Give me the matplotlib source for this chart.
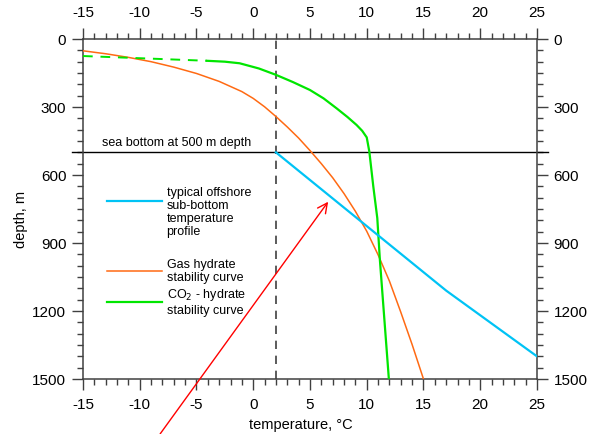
import matplotlib
matplotlib.use("Agg")
import matplotlib.pyplot as plt
from matplotlib.ticker import MultipleLocator

plt.rcParams['font.family'] = ['Liberation Sans', 'DejaVu Sans']
plt.rcParams['axes.unicode_minus'] = False

# typical offshore sub-bottom temperature profile
temp_T = [2, 17, 25]
temp_D = [500, 1110, 1400]

# gas hydrate stability curve
gas_T = [-15, -13, -11, -9, -7, -5, -3, -1, 0, 1, 2, 3, 4, 5, 6, 7, 8, 9, 10, 11, 12, 13, 14, 15]
gas_D = [52, 65, 81, 100, 124, 152, 187, 232, 262, 299, 342, 388, 437, 492, 550,
         612, 682, 760, 848, 952, 1068, 1205, 1348, 1500]

# CO2 hydrate stability curve (dashed part = extrapolated)
co2_dash_T = [-15, -4.1]
co2_dash_D = [75, 96]
co2_T = [-4.1, -2.5, -1.2, 0.5, 2.0, 3.5, 5.0, 6.2, 7.35, 8.3, 9.1, 9.6, 10.0,
         10.23, 10.58, 10.93, 11.16, 11.95]
co2_D = [96, 100, 107, 130, 158, 190, 225, 262, 306, 344, 379, 405, 434,
         497, 651, 790, 975, 1500]

sea_bottom = 500
bottom_water_T = 2
arrow_from = (-8.2, 1742)
arrow_to = (6.6, 718)

blue = '#00c3f5'
orange = '#ff6a13'
green = '#00e600'

fig = plt.figure(figsize=(5.91, 4.34), dpi=100)
ax = fig.add_axes([0.1404, 0.1267, 0.7682, 0.7834])

ax.set_xlim(-15, 25)
ax.set_ylim(1500, 0)

ax.axvline(bottom_water_T, color='#404040', lw=1.2, ls=(0, (5, 4)), zorder=1)
ax.plot([-0.025, 1.025], [sea_bottom, sea_bottom], color='black', lw=1,
        transform=ax.get_yaxis_transform(), clip_on=False, zorder=2)
ax.text(0.041, sea_bottom - 15, 'sea bottom at 500 m depth', fontsize=9,
        transform=ax.get_yaxis_transform(), va='bottom', ha='left')

ax.plot(gas_T, gas_D, color=orange, lw=1.1, zorder=3)
ax.plot(co2_dash_T, co2_dash_D, color=green, lw=1.4, ls=(0, (5, 4)), zorder=3)
ax.plot(co2_T, co2_D, color=green, lw=1.6, zorder=3)
ax.plot(temp_T, temp_D, color=blue, lw=1.6, zorder=4)

ax.annotate('', xy=arrow_to, xytext=arrow_from, annotation_clip=False,
            arrowprops=dict(arrowstyle='->,head_length=0.7,head_width=0.35',
                            color='red', lw=1, shrinkA=0, shrinkB=0), zorder=6)

# hand placed legend
tr = ax.transAxes
ax.plot([0.0535, 0.1733], [0.5244, 0.5244], color=blue, lw=1.6, transform=tr)
ax.text(0.184, 0.4903, 'typical offshore\nsub-bottom\ntemperature\nprofile',
        transform=tr, fontsize=9, va='center', ha='left', linespacing=1.12)
ax.plot([0.0535, 0.1733], [0.3176, 0.3176], color=orange, lw=1.1, transform=tr)
ax.text(0.184, 0.3156, 'Gas hydrate\nstability curve',
        transform=tr, fontsize=9, va='center', ha='left', linespacing=1.12)
ax.plot([0.0535, 0.1733], [0.2256, 0.2256], color=green, lw=1.6, transform=tr)
ax.text(0.184, 0.2265, 'CO$_2$ - hydrate\nstability curve',
        transform=tr, fontsize=9, va='center', ha='left', linespacing=1.12)

# axes, ticks
ax.xaxis.set_major_locator(MultipleLocator(5))
ax.xaxis.set_minor_locator(MultipleLocator(1))
ax.yaxis.set_major_locator(MultipleLocator(300))
ax.yaxis.set_minor_locator(MultipleLocator(50))
ax.tick_params(which='both', direction='out', top=True, right=True,
               labeltop=True, labelright=True, colors='#404040',
               labelcolor='black', labelsize=11)
ax.tick_params(which='major', length=8, width=1)
ax.tick_params(which='minor', length=4.5, width=1)
ax.tick_params(axis='x', which='major', pad=5.5)
ax.tick_params(axis='y', which='major', pad=4)
for s in ax.spines.values():
    s.set_color('#404040')
    s.set_linewidth(1.1)

ax.set_xlabel('temperature, °C', fontsize=10.5)
ax.set_ylabel('depth, m', fontsize=10.5)
ax.xaxis.set_label_coords(0.48, -0.115)
ax.yaxis.set_label_coords(-0.121, 0.47)

fig.savefig('out.png', dpi=100)
